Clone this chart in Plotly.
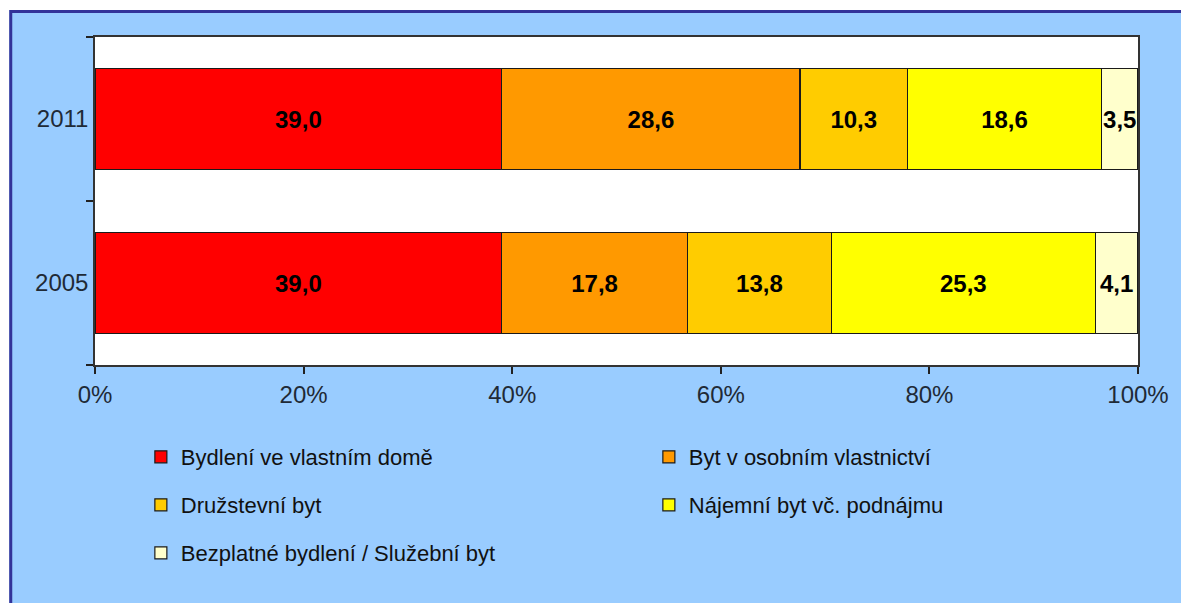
import plotly.graph_objects as go

# Housing structure by year (percent shares)
years = ["2005", "2011"]
categories = [
    "Bydlení ve vlastním domě",
    "Byt v osobním vlastnictví",
    "Družstevní byt",
    "Nájemní byt vč. podnájmu",
    "Bezplatné bydlení / Služební byt",
]
values_2005 = [39.0, 17.8, 13.8, 25.3, 4.1]
values_2011 = [39.0, 28.6, 10.3, 18.6, 3.5]
colors = ["#FF0000", "#FF9900", "#FFCC00", "#FFFF00", "#FFFFCC"]
legend_ids = ["legend", "legend", "legend2", "legend2", "legend3"]
x_ticks = [0, 20, 40, 60, 80, 100]
x_tick_labels = ["0%", "20%", "40%", "60%", "80%", "100%"]

W, H = 1181, 603
ML, MR, MT, MB = 95, 40, 37, 238
PW, PH = W - ML - MR, H - MT - MB


def px_x(p):
    return (p - ML) / PW


def px_y(p):
    return (H - MB - p) / PH


FONT = "Liberation Sans, Arial, sans-serif"

fig = go.Figure()
for i, name in enumerate(categories):
    fig.add_trace(go.Bar(
        y=years,
        x=[values_2005[i], values_2011[i]],
        orientation="h",
        name=name,
        legend=legend_ids[i],
        marker=dict(color=colors[i], line=dict(color="#1a1a1a", width=1.2)),
        texttemplate="<b>%{x:.1f}</b>",
        textposition="inside",
        insidetextanchor="middle",
        textangle=0,
        constraintext="none",
        cliponaxis=False,
        textfont=dict(family=FONT, size=24, color="#000000"),
        hoverinfo="skip",
    ))

legend_common = dict(
    orientation="h",
    x=px_x(141),
    xanchor="left",
    yanchor="middle",
    entrywidth=463,
    entrywidthmode="pixels",
    traceorder="normal",
    bgcolor="rgba(0,0,0,0)",
    font=dict(family=FONT, size=22, color="#111111"),
)

fig.update_layout(
    width=W,
    height=H,
    margin=dict(l=ML, r=MR, t=MT, b=MB),
    paper_bgcolor="#99CCFF",
    plot_bgcolor="#FFFFFF",
    barmode="stack",
    bargap=0.38,
    separators=", ",
    showlegend=True,
    legend=dict(legend_common, y=px_y(457)),
    legend2=dict(legend_common, y=px_y(505)),
    legend3=dict(legend_common, y=px_y(553)),
    xaxis=dict(
        range=[0, 100],
        tickmode="array",
        tickvals=x_ticks,
        ticktext=x_tick_labels,
        ticks="outside",
        ticklen=7,
        tickwidth=1.5,
        tickcolor="#222222",
        showgrid=False,
        zeroline=False,
        showline=True,
        linecolor="#333333",
        linewidth=1.5,
        mirror=True,
        tickfont=dict(family=FONT, size=24, color="#1f2a36"),
    ),
    yaxis=dict(
        type="category",
        categoryorder="array",
        categoryarray=years,
        tickson="boundaries",
        ticks="outside",
        ticklen=7,
        tickwidth=1.5,
        tickcolor="#222222",
        showgrid=False,
        showline=True,
        linecolor="#333333",
        linewidth=1.5,
        mirror=True,
        tickfont=dict(family=FONT, size=24, color="#1f2a36"),
    ),
    shapes=[
        # white strips around the chart frame
        dict(type="rect", xref="paper", yref="paper",
             x0=px_x(-20), x1=px_x(W + 20), y0=px_y(10), y1=px_y(-20),
             fillcolor="#FFFFFF", line=dict(width=0), layer="above"),
        dict(type="rect", xref="paper", yref="paper",
             x0=px_x(-20), x1=px_x(9), y0=px_y(H + 20), y1=px_y(-20),
             fillcolor="#FFFFFF", line=dict(width=0), layer="above"),
        # dark blue frame (top and left edges visible)
        dict(type="rect", xref="paper", yref="paper",
             x0=px_x(10.5), x1=px_x(W + 30), y0=px_y(H + 30), y1=px_y(11.5),
             fillcolor="rgba(0,0,0,0)", line=dict(color="#333399", width=3),
             layer="above"),
    ],
)

fig.write_html("out.html")
